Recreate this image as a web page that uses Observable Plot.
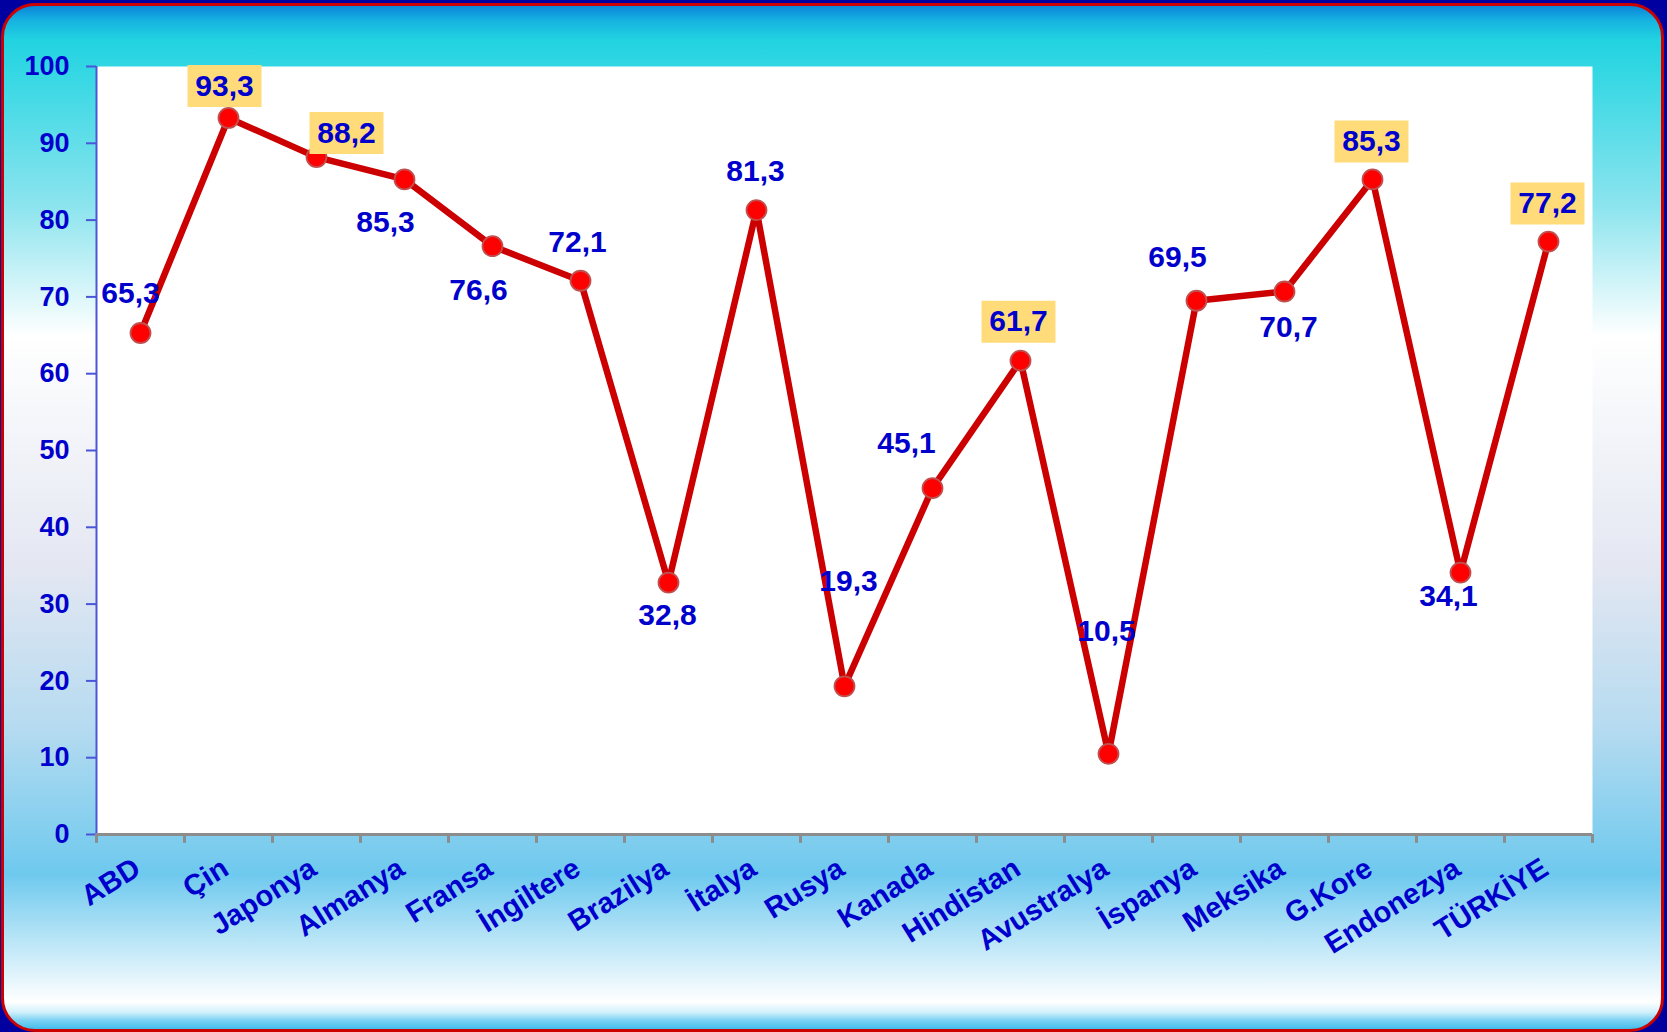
<!DOCTYPE html>
<html>
<head>
<meta charset="utf-8">
<script src="https://cdn.jsdelivr.net/npm/d3@7"></script>
<script src="https://cdn.jsdelivr.net/npm/@observablehq/plot@0.6"></script>
<style>
  html, body { margin: 0; padding: 0; }
  body { width: 1667px; height: 1032px; overflow: hidden; background: #0000a0; position: relative; }
  #bg {
    position: absolute; left: 1px; top: 3px; width: 1657px; height: 1023px;
    border: 3px solid #cc0000; border-radius: 34px;
    background: linear-gradient(to bottom,
      #0a84da 0px, #16b2e0 14px, #22d3e0 34px, #36d8e4 70px, #8ce4ee 200px,
      #ffffff 330px, #e4e7f2 560px, #b6dbf0 720px, #6ec9ee 868px,
      #ffffff 996px, #d2f1fb 1006px, #7fd3f4 1014px, #42bcec 1023px);
  }
  #chart { position: absolute; left: 0; top: 0; }
</style>
</head>
<body>
<div id="bg"></div>
<div id="chart"></div>
<script>
// ---- data ----
const categories = ["ABD","Çin","Japonya","Almanya","Fransa","İngiltere","Brazilya","İtalya","Rusya","Kanada","Hindistan","Avustralya","İspanya","Meksika","G.Kore","Endonezya","TÜRKİYE"];
const values = [65.3, 93.3, 88.2, 85.3, 76.6, 72.1, 32.8, 81.3, 19.3, 45.1, 61.7, 10.5, 69.5, 70.7, 85.3, 34.1, 77.2];
const highlighted = ["Çin","Japonya","Hindistan","G.Kore","TÜRKİYE"];
const yTicks = [0, 10, 20, 30, 40, 50, 60, 70, 80, 90, 100];
// label placement (pixel offsets from each point)
const labelOffsets = [[-10,-40],[-4,-32],[30,-24],[-19,43],[-14,44],[-3,-38],[-1,33],[-1,-39],[4,-105],[-26,-45],[-2,-39],[-2,-122],[-19,-43],[4,36],[-1,-38],[-12,24],[-1,-38]];

const W = 1667, H = 1032;
const mL = 96, mR = 75, mT = 66, mB = 198;
const band = (W - mL - mR) / categories.length;

const data = categories.map((c, i) => ({country: c, value: values[i], off: labelOffsets[i], boxed: highlighted.includes(c)}));
const fmt = v => v.toFixed(1).replace(".", ",");

const blue = "#0000cc";
const boxSymbol = { draw(ctx) { ctx.rect(-37, -21, 74, 42); } };

const labelMarks = [];
data.forEach(d => {
  if (d.boxed) {
    labelMarks.push(Plot.dot([d], {x: "country", y: "value", dx: d.off[0], dy: d.off[1], symbol: boxSymbol, r: 10, fill: "#ffdb7a", stroke: "none"}));
  }
});
data.forEach(d => {
  labelMarks.push(Plot.text([d], {x: "country", y: "value", text: d => fmt(d.value), dx: d.off[0], dy: d.off[1], fill: blue, fontSize: 30, fontWeight: "bold"}));
});

const chart = Plot.plot({
  width: W, height: H,
  marginLeft: mL, marginRight: mR, marginTop: mT, marginBottom: mB,
  style: {background: "transparent", fontFamily: "'Liberation Sans', Arial, sans-serif", overflow: "visible"},
  x: {type: "band", domain: categories, padding: 0, axis: null},
  y: {domain: [0, 100], axis: null},
  marks: [
    Plot.frame({fill: "white", stroke: "none"}),
    Plot.axisY(yTicks, {label: null, tickSize: 10, tickPadding: 17, stroke: "#4a55d8", strokeWidth: 2, fill: blue, fontSize: 27, fontWeight: "bold"}),
    Plot.ruleX([categories[0]], {dx: -band / 2, stroke: "#4a55d8", strokeWidth: 2}),
    Plot.ruleX(categories, {x: d => d, dx: -band / 2, y1: 0, y2: -1.15, stroke: "#8c8c8c", strokeWidth: 3}),
    Plot.ruleX([categories[categories.length - 1]], {dx: band / 2, y1: 0, y2: -1.15, stroke: "#8c8c8c", strokeWidth: 3}),
    Plot.ruleY([0], {stroke: "#8c8c8c", strokeWidth: 3}),
    Plot.axisX({label: null, tickSize: 0, tickPadding: 31, tickRotate: -32, dx: -3, fill: blue, fontSize: 29, fontWeight: "bold"}),
    Plot.line(data, {x: "country", y: "value", stroke: "#cc0000", strokeWidth: 6.5}),
    Plot.dot(data, {x: "country", y: "value", r: 10, fill: "#ff0000", stroke: "#c05050", strokeWidth: 1.8}),
    ...labelMarks
  ]
});
document.getElementById("chart").appendChild(chart);
</script>
</body>
</html>
